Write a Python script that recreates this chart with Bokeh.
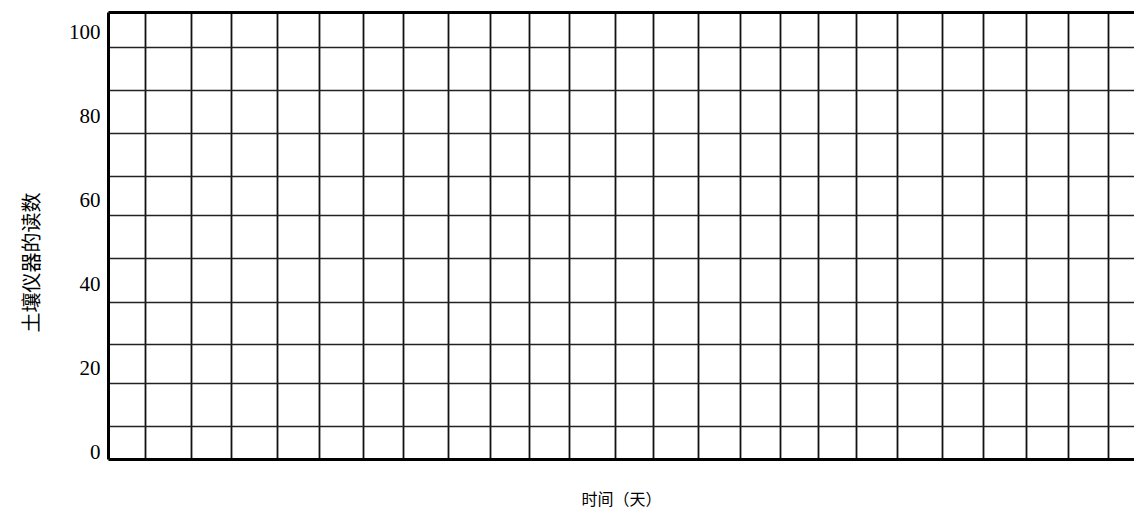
from bokeh.plotting import figure
from bokeh.models import Range1d, FixedTicker, LinearAxis, Title
from bokeh.embed import file_html
from bokeh.resources import INLINE

# y-axis tick labels (soil instrument reading)
y_tick_labels = [0, 20, 40, 60, 80, 100]
# printed horizontal grid lines (reading units, as drawn on the paper)
y_grid = [5.9, 16.2, 25.5, 35.5, 46.0, 56.2, 65.5, 75.8, 86.0, 96.3]
# printed vertical grid lines (days)
x_grid = [0.89, 1.99, 2.95, 4.05, 5.06, 6.12, 7.07, 8.15, 9.16, 10.10, 11.06,
          12.16, 13.09, 14.17, 15.16, 16.12, 17.05, 17.96, 18.94, 20.02, 21.01,
          22.04, 23.05, 24.0]
x_title = "时间（天）"
y_title = "土壤仪器的读数"

CJK = "Liberation Serif, Noto Sans CJK SC"


def bare(axis):
    axis.major_tick_out = 0
    axis.major_tick_in = 0
    axis.minor_tick_out = 0
    axis.minor_tick_in = 0
    axis.major_label_standoff = 0


p = figure(width=1134, height=510, output_backend="svg", toolbar_location=None,
           x_range=Range1d(0, 24.63), y_range=Range1d(-1.9, 104.6),
           min_border_left=107, min_border_right=0, min_border_top=12,
           min_border_bottom=51)
p.outline_line_color = None
p.background_fill_color = "white"
p.border_fill_color = "white"

# bottom axis: thick frame line and the axis title
xa = p.xaxis[0]
xa.ticker = FixedTicker(ticks=[])
xa.axis_line_width = 3
xa.axis_line_color = "black"
bare(xa)
xa.axis_label = x_title
xa.axis_label_standoff = 31
xa.axis_label_text_font = CJK
xa.axis_label_text_font_size = "16px"
xa.axis_label_text_font_style = "normal"
xa.axis_label_text_color = "black"

# left axis with the tick labels
ya = p.yaxis[0]
ya.ticker = FixedTicker(ticks=y_tick_labels)
ya.axis_line_width = 3
ya.axis_line_color = "black"
bare(ya)
ya.major_label_standoff = 8
ya.major_label_text_font = "Liberation Serif"
ya.major_label_text_font_size = "21px"
ya.major_label_text_color = "black"

# top frame line
top = LinearAxis(ticker=FixedTicker(ticks=[]), axis_line_width=3,
                 axis_line_color="black")
bare(top)
p.add_layout(top, "above")

# y title, set as a side title so it can sit lower than centre
p.add_layout(Title(text=y_title, align="left", offset=127, vertical_align="top",
                   standoff=41, text_font=CJK, text_font_size="20px",
                   text_font_style="normal", text_color="black"), "left")

# grid
p.xgrid.ticker = FixedTicker(ticks=x_grid)
p.xgrid.grid_line_color = "#111111"
p.xgrid.grid_line_width = 1.8
p.xgrid.grid_line_alpha = 1.0
p.ygrid.ticker = FixedTicker(ticks=y_grid)
p.ygrid.grid_line_color = "#222222"
p.ygrid.grid_line_width = 1.4
p.ygrid.grid_line_alpha = 1.0

open("out.html", "w").write(file_html(p, INLINE))
